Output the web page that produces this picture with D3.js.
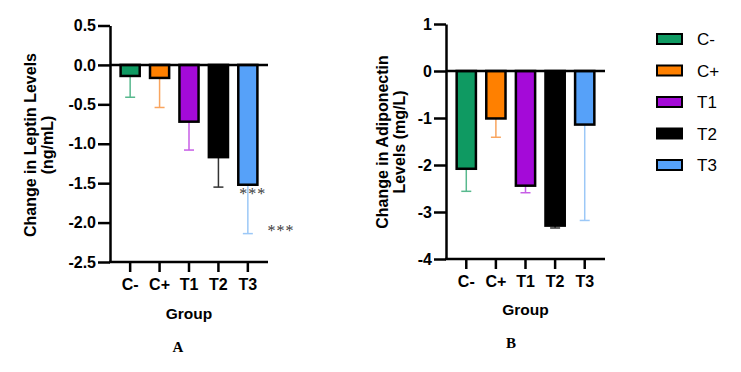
<!DOCTYPE html>
<html>
<head>
<meta charset="utf-8">
<script src="https://cdn.jsdelivr.net/npm/d3@7"></script>
<style>
  body { margin: 0; background: #fff; }
  svg text { font-family: "Liberation Sans", Arial, sans-serif; }
</style>
</head>
<body>
<svg id="chart" width="741" height="372"></svg>
<script>
// groups and colours
const groups = ["C-", "C+", "T1", "T2", "T3"];
const fills = ["#0f9a62", "#ff8000", "#a40ad8", "#000000", "#56a1f9"];
const errColors = ["#58b98e", "#f9a55f", "#c75ee6", "#333333", "#9cc8f7"];

// panel A: leptin (ng/mL)
const leptinMean = [-0.14, -0.165, -0.72, -1.17, -1.52];
const leptinErr = [0.27, 0.375, 0.36, 0.38, 0.62];
const leptinTicks = [0.5, 0.0, -0.5, -1.0, -1.5, -2.0, -2.5];

// panel B: adiponectin (mg/L)
const adipoMean = [-2.08, -1.01, -2.44, -3.29, -1.14];
const adipoErr = [0.48, 0.40, 0.15, 0.05, 2.04];
const adipoTicks = [1, 0, -1, -2, -3, -4];

const svg = d3.select("#chart");
svg.append("rect").attr("width", 741).attr("height", 372).attr("fill", "#fff");

function hyphen(f) {
  return d => f(d).replace("\u2212", "-");
}

function panel(opt) {
  const g = svg.append("g");

  const x = d3.scaleBand()
    .domain(groups)
    .range([opt.left, opt.right])
    .paddingInner(0.35)
    .paddingOuter(0.36);

  const y = d3.scaleLinear()
    .domain(opt.domain)
    .range([opt.bottom, opt.top]);

  // error bars (one-sided, downwards)
  const eb = g.append("g");
  groups.forEach((k, i) => {
    const cx = x(k) + x.bandwidth() / 2;
    const y0 = y(opt.mean[i]);
    const y1 = y(opt.mean[i] - opt.err[i]);
    eb.append("line")
      .attr("x1", cx).attr("x2", cx)
      .attr("y1", y0).attr("y2", y1)
      .attr("stroke", errColors[i]).attr("stroke-width", 1.5);
    eb.append("line")
      .attr("x1", cx - 5).attr("x2", cx + 5)
      .attr("y1", y1).attr("y2", y1)
      .attr("stroke", errColors[i]).attr("stroke-width", 1.5);
  });

  // bars
  g.selectAll("rect.bar")
    .data(groups)
    .enter()
    .append("rect")
    .attr("class", "bar")
    .attr("x", d => x(d))
    .attr("width", x.bandwidth())
    .attr("y", y(0))
    .attr("height", (d, i) => y(opt.mean[i]) - y(0))
    .attr("fill", (d, i) => fills[i])
    .attr("stroke", "#000")
    .attr("stroke-width", 2.5);

  // zero line
  g.append("line")
    .attr("x1", opt.left).attr("x2", opt.right)
    .attr("y1", y(0)).attr("y2", y(0))
    .attr("stroke", "#000").attr("stroke-width", 2.5);

  // y axis
  const ya = g.append("g")
    .attr("transform", `translate(${opt.left},0)`)
    .call(d3.axisLeft(y)
      .tickValues(opt.ticks)
      .tickFormat(hyphen(d3.format(opt.fmt)))
      .tickSize(12)
      .tickSizeOuter(0)
      .tickPadding(2));
  ya.attr("font-size", null).attr("font-family", null);
  ya.selectAll("path, line").attr("stroke", "#000").attr("stroke-width", 2.5);
  ya.selectAll("text")
    .attr("fill", "#000")
    .attr("font-size", 16)
    .attr("font-weight", "bold");

  // x axis
  const xa = g.append("g")
    .attr("transform", `translate(0,${opt.bottom})`)
    .call(d3.axisBottom(x).tickSize(10).tickSizeOuter(0).tickPadding(7));
  xa.attr("font-size", null).attr("font-family", null);
  xa.select("path").attr("d", `M${opt.left - 1},0H${opt.right}`);
  xa.selectAll("path, line").attr("stroke", "#000").attr("stroke-width", 2.5);
  xa.selectAll("text")
    .attr("fill", "#000")
    .attr("font-size", 16)
    .attr("font-weight", "bold");

  // axis titles
  g.append("text")
    .attr("x", (opt.left + opt.right) / 2)
    .attr("y", opt.groupY)
    .attr("text-anchor", "middle")
    .attr("font-size", 15.5)
    .attr("font-weight", "bold")
    .text("Group");

  opt.yTitle.forEach((t, i) => {
    g.append("text")
      .attr("transform", `translate(${opt.yTitleX[i]},${opt.yTitleY}) rotate(-90)`)
      .attr("text-anchor", "middle")
      .attr("font-size", 16)
      .attr("font-weight", "bold")
      .text(t);
  });

  g.append("text")
    .attr("x", opt.letterX)
    .attr("y", opt.letterY)
    .attr("text-anchor", "middle")
    .style("font-family", "'Liberation Serif', 'Times New Roman', serif")
    .attr("font-size", 15)
    .attr("font-weight", "bold")
    .text(opt.letter);

  return { x, y, g };
}

const A = panel({
  left: 110, right: 268, top: 25.5, bottom: 262,
  domain: [-2.5, 0.5], ticks: leptinTicks, fmt: ".1f",
  mean: leptinMean, err: leptinErr,
  groupY: 319,
  yTitle: ["Change in Leptin Levels", "(ng/mL)"], yTitleX: [36, 53], yTitleY: 145,
  letter: "A", letterX: 178, letterY: 352
});

const B = panel({
  left: 446, right: 605, top: 24, bottom: 259,
  domain: [-4, 1], ticks: adipoTicks, fmt: "d",
  mean: adipoMean, err: adipoErr,
  groupY: 315,
  yTitle: ["Change in Adiponectin", "Levels (mg/L)"], yTitleX: [388, 405], yTitleY: 142,
  letter: "B", letterX: 511, letterY: 348
});

// significance marks in panel A
const stars = [
  { x: A.x("T3") + A.x.bandwidth() / 2 + 5, y: A.y(leptinMean[4]) + 14 },
  { x: 281, y: A.y(-2.07) + 8 }
];
A.g.selectAll("text.star")
  .data(stars)
  .enter()
  .append("text")
  .attr("class", "star")
  .attr("x", d => d.x)
  .attr("y", d => d.y)
  .attr("text-anchor", "middle")
  .attr("fill", "#3a3a3a")
  .style("font-family", "'Liberation Serif', 'Times New Roman', serif")
  .attr("font-size", 16)
  .style("letter-spacing", "1px")
  .text("***");

// legend
const legend = svg.append("g").attr("transform", "translate(657,39)");
groups.forEach((k, i) => {
  const row = legend.append("g").attr("transform", `translate(0,${i * 31.5})`);
  row.append("rect")
    .attr("x", 0).attr("y", -5)
    .attr("width", 25).attr("height", 10)
    .attr("fill", fills[i])
    .attr("stroke", "#000").attr("stroke-width", 2);
  row.append("text")
    .attr("x", 40).attr("y", 6)
    .attr("font-size", 17)
    .attr("fill", "#000")
    .text(k);
});
</script>
</body>
</html>
